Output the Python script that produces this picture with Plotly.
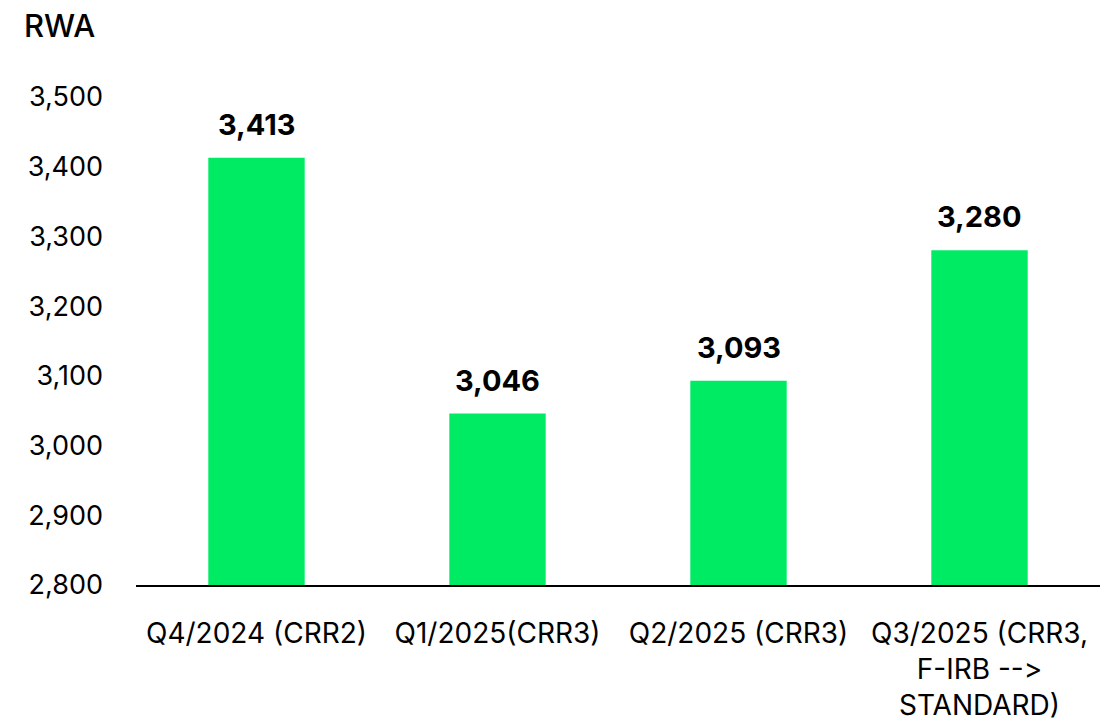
import plotly.graph_objects as go

categories = ["Q4/2024 (CRR2)", "Q1/2025(CRR3)", "Q2/2025 (CRR3)", "Q3/2025 (CRR3,<br>F-IRB --\u200c><br>STANDARD)"]
values = [3413, 3046, 3093, 3280]
tick_vals = [2800, 2900, 3000, 3100, 3200, 3300, 3400, 3500]
tick_text = ["2,800", "2,900", "3,000", "3,100", "3,200", "3,300", "3,400", "3,500"]
value_labels = [f"{v:,}" for v in values]

FONT = "Inter, Lato, sans-serif"

fig = go.Figure(go.Bar(
    x=categories, y=values,
    marker=dict(color="#00EB64", line=dict(width=0)),
    width=0.4,
    cliponaxis=False,
))

for c, v, t in zip(categories, values, value_labels):
    fig.add_annotation(
        x=c, y=v, text=t, showarrow=False, yanchor="bottom", yshift=14,
        font=dict(family=FONT, size=29, color="black", weight="bold"),
    )

fig.update_layout(
    width=1109, height=719,
    margin=dict(l=128, r=17, t=89, b=142, autoexpand=False),
    paper_bgcolor="white", plot_bgcolor="white",
    font=dict(family=FONT, size=27, color="black"),
    showlegend=False,
)
fig.update_yaxes(
    range=[2800, 3500], tickvals=tick_vals, ticktext=tick_text,
    showgrid=False, zeroline=False, showline=False, ticks="",
    ticklabelstandoff=32, tickfont=dict(size=27), automargin=False,
)
fig.update_xaxes(
    showline=True, linecolor="black", linewidth=2, ticks="",
    showgrid=False, tickfont=dict(size=28), ticklabelstandoff=22,
    automargin=False,
)
fig.add_annotation(
    text="RWA", xref="paper", yref="paper", x=-0.118, y=1.1475,
    xanchor="left", yanchor="middle", showarrow=False,
    font=dict(family=FONT, size=31, color="black", weight=500),
)

fig.write_html("out.html")
